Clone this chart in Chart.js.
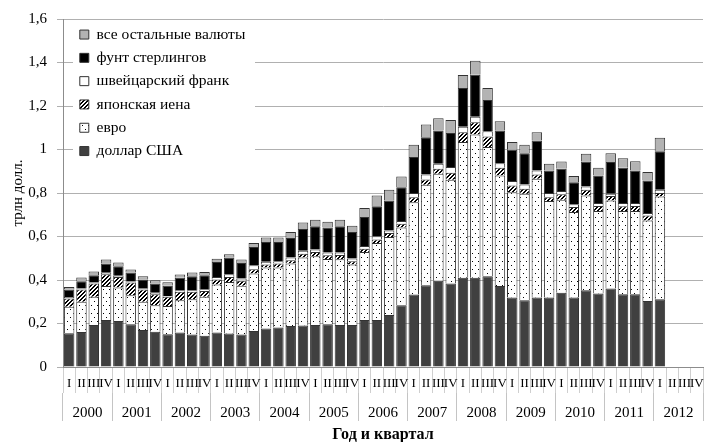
<!DOCTYPE html>
<html>
<head>
<meta charset="utf-8">
<script src="https://cdn.jsdelivr.net/npm/chart.js@4.4.1/dist/chart.umd.min.js"></script>
<style>
  html, body { margin: 0; padding: 0; background: #fff; }
  #wrap { width: 705px; height: 442px; }
</style>
</head>
<body>
<div id="wrap"><canvas id="chart"></canvas></div>
<script>
// quarters 2000 I .. 2012 IV, data ends 2012 I
const quarters = [
  'I', 'II', 'III', 'IV', 'I', 'II', 'III', 'IV', 'I', 'II', 'III', 'IV',
  'I', 'II', 'III', 'IV', 'I', 'II', 'III', 'IV', 'I', 'II', 'III', 'IV',
  'I', 'II', 'III', 'IV', 'I', 'II', 'III', 'IV', 'I', 'II', 'III', 'IV',
  'I', 'II', 'III', 'IV', 'I', 'II', 'III', 'IV', 'I', 'II', 'III', 'IV',
  'I', 'II', 'III', 'IV'
];
const years = ['2000', '2001', '2002', '2003', '2004', '2005', '2006',
  '2007', '2008', '2009', '2010', '2011', '2012'];

// trillion USD
const usd = [0.155, 0.161, 0.193, 0.216, 0.211, 0.197, 0.170, 0.162, 0.151, 0.159, 0.150, 0.144,
  0.159, 0.154, 0.150, 0.165, 0.177, 0.182, 0.188, 0.191, 0.193, 0.197, 0.193, 0.193,
  0.216, 0.216, 0.239, 0.284, 0.333, 0.376, 0.396, 0.384, 0.410, 0.410, 0.417, 0.372,
  0.320, 0.307, 0.320, 0.320, 0.341, 0.320, 0.353, 0.338, 0.361, 0.335, 0.335, 0.303, 0.312];
const eur = [0.122, 0.139, 0.130, 0.156, 0.154, 0.133, 0.130, 0.122, 0.129, 0.148, 0.162, 0.179,
  0.220, 0.237, 0.223, 0.265, 0.280, 0.275, 0.288, 0.312, 0.316, 0.300, 0.302, 0.278,
  0.313, 0.354, 0.359, 0.357, 0.425, 0.462, 0.492, 0.477, 0.624, 0.659, 0.594, 0.509,
  0.484, 0.490, 0.545, 0.443, 0.428, 0.393, 0.436, 0.379, 0.405, 0.382, 0.382, 0.371, 0.472];
const jpy = [0.038, 0.056, 0.061, 0.055, 0.049, 0.058, 0.056, 0.051, 0.043, 0.039, 0.034, 0.027,
  0.023, 0.023, 0.023, 0.020, 0.014, 0.019, 0.015, 0.018, 0.020, 0.017, 0.020, 0.015,
  0.015, 0.016, 0.018, 0.018, 0.023, 0.024, 0.023, 0.032, 0.045, 0.056, 0.049, 0.035,
  0.031, 0.023, 0.020, 0.018, 0.025, 0.023, 0.026, 0.023, 0.020, 0.022, 0.023, 0.023, 0.016];
const chf = [0.007, 0.005, 0.004, 0.006, 0.005, 0.005, 0.006, 0.006, 0.004, 0.007, 0.007, 0.008,
  0.012, 0.013, 0.011, 0.018, 0.013, 0.010, 0.012, 0.013, 0.011, 0.012, 0.011, 0.013,
  0.012, 0.015, 0.012, 0.012, 0.019, 0.023, 0.023, 0.026, 0.026, 0.026, 0.024, 0.021,
  0.020, 0.019, 0.019, 0.019, 0.015, 0.012, 0.015, 0.014, 0.011, 0.015, 0.014, 0.011, 0.015];
const gbp = [0.034, 0.033, 0.034, 0.043, 0.044, 0.041, 0.040, 0.043, 0.046, 0.057, 0.064, 0.064,
  0.069, 0.076, 0.071, 0.084, 0.091, 0.089, 0.090, 0.100, 0.107, 0.115, 0.121, 0.122,
  0.134, 0.138, 0.138, 0.156, 0.165, 0.171, 0.153, 0.157, 0.178, 0.193, 0.144, 0.150,
  0.144, 0.144, 0.137, 0.104, 0.102, 0.102, 0.115, 0.127, 0.145, 0.162, 0.150, 0.150, 0.177];
const other = [0.012, 0.017, 0.017, 0.018, 0.017, 0.014, 0.015, 0.015, 0.017, 0.015, 0.017, 0.015,
  0.015, 0.015, 0.016, 0.018, 0.020, 0.020, 0.028, 0.030, 0.030, 0.027, 0.030, 0.029,
  0.041, 0.049, 0.049, 0.049, 0.057, 0.059, 0.057, 0.060, 0.060, 0.064, 0.055, 0.043,
  0.035, 0.039, 0.038, 0.030, 0.034, 0.028, 0.035, 0.035, 0.041, 0.044, 0.042, 0.038, 0.062];

// fill patterns like the old excel ones
function makePattern(w, h, paint) {
  const c = document.createElement('canvas');
  c.width = w;
  c.height = h;
  const g = c.getContext('2d');
  g.fillStyle = '#fff';
  g.fillRect(0, 0, w, h);
  g.fillStyle = '#000';
  paint(g);
  return g.createPattern(c, 'repeat');
}
const dots = makePattern(6, 8, (g) => {
  g.fillRect(1, 1, 1, 1);
  g.fillRect(4, 5, 1, 1);
});
const hatch = makePattern(4, 4, (g) => {
  for (let x = 0; x < 4; x++) {
    g.fillRect(x, 3 - x, 1, 1);
    g.fillRect((x + 1) % 4, 3 - x, 1, 1);
  }
});

// white box behind the legend, then legend again on top of the grid
const legendBox = {
  id: 'legendBox',
  afterLayout(chart) {
    const lg = chart.legend;
    const a = chart.chartArea;
    lg.left = a.left + 9;
    lg.right = lg.left + lg.width;
    lg.top = a.top;
    lg.bottom = a.top + lg.height;
  },
  beforeDatasetsDraw(chart) {
    const { ctx, chartArea } = chart;
    ctx.save();
    ctx.fillStyle = '#fff';
    ctx.fillRect(chartArea.left + 10, chartArea.top + 1, 182, 147);
    ctx.restore();
    chart.legend.draw();
  }
};

Chart.defaults.font.family = '"Liberation Serif", "DejaVu Serif", serif';
Chart.defaults.font.size = 15;
Chart.defaults.color = '#000';

const seg = (label, data, fill) => ({
  label,
  data,
  backgroundColor: fill,
  borderColor: '#333',
  borderWidth: 1,
  barPercentage: 0.85,
  categoryPercentage: 1
});

new Chart(document.getElementById('chart'), {
  type: 'bar',
  data: {
    labels: quarters,
    datasets: [
      seg('доллар США', usd, '#404040'),
      seg('евро', eur, dots),
      seg('японская иена', jpy, hatch),
      seg('швейцарский франк', chf, '#fff'),
      seg('фунт стерлингов', gbp, '#000'),
      seg('все остальные валюты', other, '#b3b3b3')
    ]
  },
  options: {
    responsive: true,
    maintainAspectRatio: false,
    animation: false,
    layout: { padding: { top: 18, left: 5, right: 2, bottom: 0 } },
    plugins: {
      legend: {
        position: 'chartArea',
        align: 'start',
        reverse: true,
        labels: { boxWidth: 9, boxHeight: 9, padding: 7.8, font: { size: 15.5 } }
      },
      tooltip: { enabled: false }
    },
    scales: {
      x: {
        stacked: true,
        offset: true,
        grid: { offset: true, drawOnChartArea: false, tickLength: 26, color: '#cfcfcf' },
        border: { color: '#8c8c8c' },
        ticks: { autoSkip: false, maxRotation: 0, padding: -17, font: { size: 13 } },
        // labels sit inside the tick marks, so fix the row height by hand
        afterFit: (scale) => { scale.height = 26; }
      },
      x2: {
        type: 'category',
        labels: years,
        position: 'bottom',
        offset: true,
        grid: { offset: true, drawOnChartArea: false, tickLength: 28, color: '#c4c4c4' },
        border: { display: false },
        ticks: { autoSkip: false, maxRotation: 0, padding: -17 },
        title: {
          display: true,
          text: 'Год и квартал',
          font: { size: 16, weight: 'bold' },
          padding: { top: 0, bottom: -2 }
        },
        afterFit: (scale) => { scale.height = 49; }
      },
      y: {
        stacked: true,
        min: 0,
        max: 1.6,
        ticks: {
          stepSize: 0.2,
          padding: 10,
          callback: (v) => String(Math.round(v * 10) / 10).replace('.', ',')
        },
        grid: { color: '#b0b0b0', tickLength: 6 },
        border: { color: '#8c8c8c' },
        title: { display: true, text: 'трлн долл.', padding: { top: 4, bottom: 2 } },
        afterFit: (scale) => { scale.width = 58; }
      }
    }
  },
  plugins: [legendBox]
});
</script>
</body>
</html>
